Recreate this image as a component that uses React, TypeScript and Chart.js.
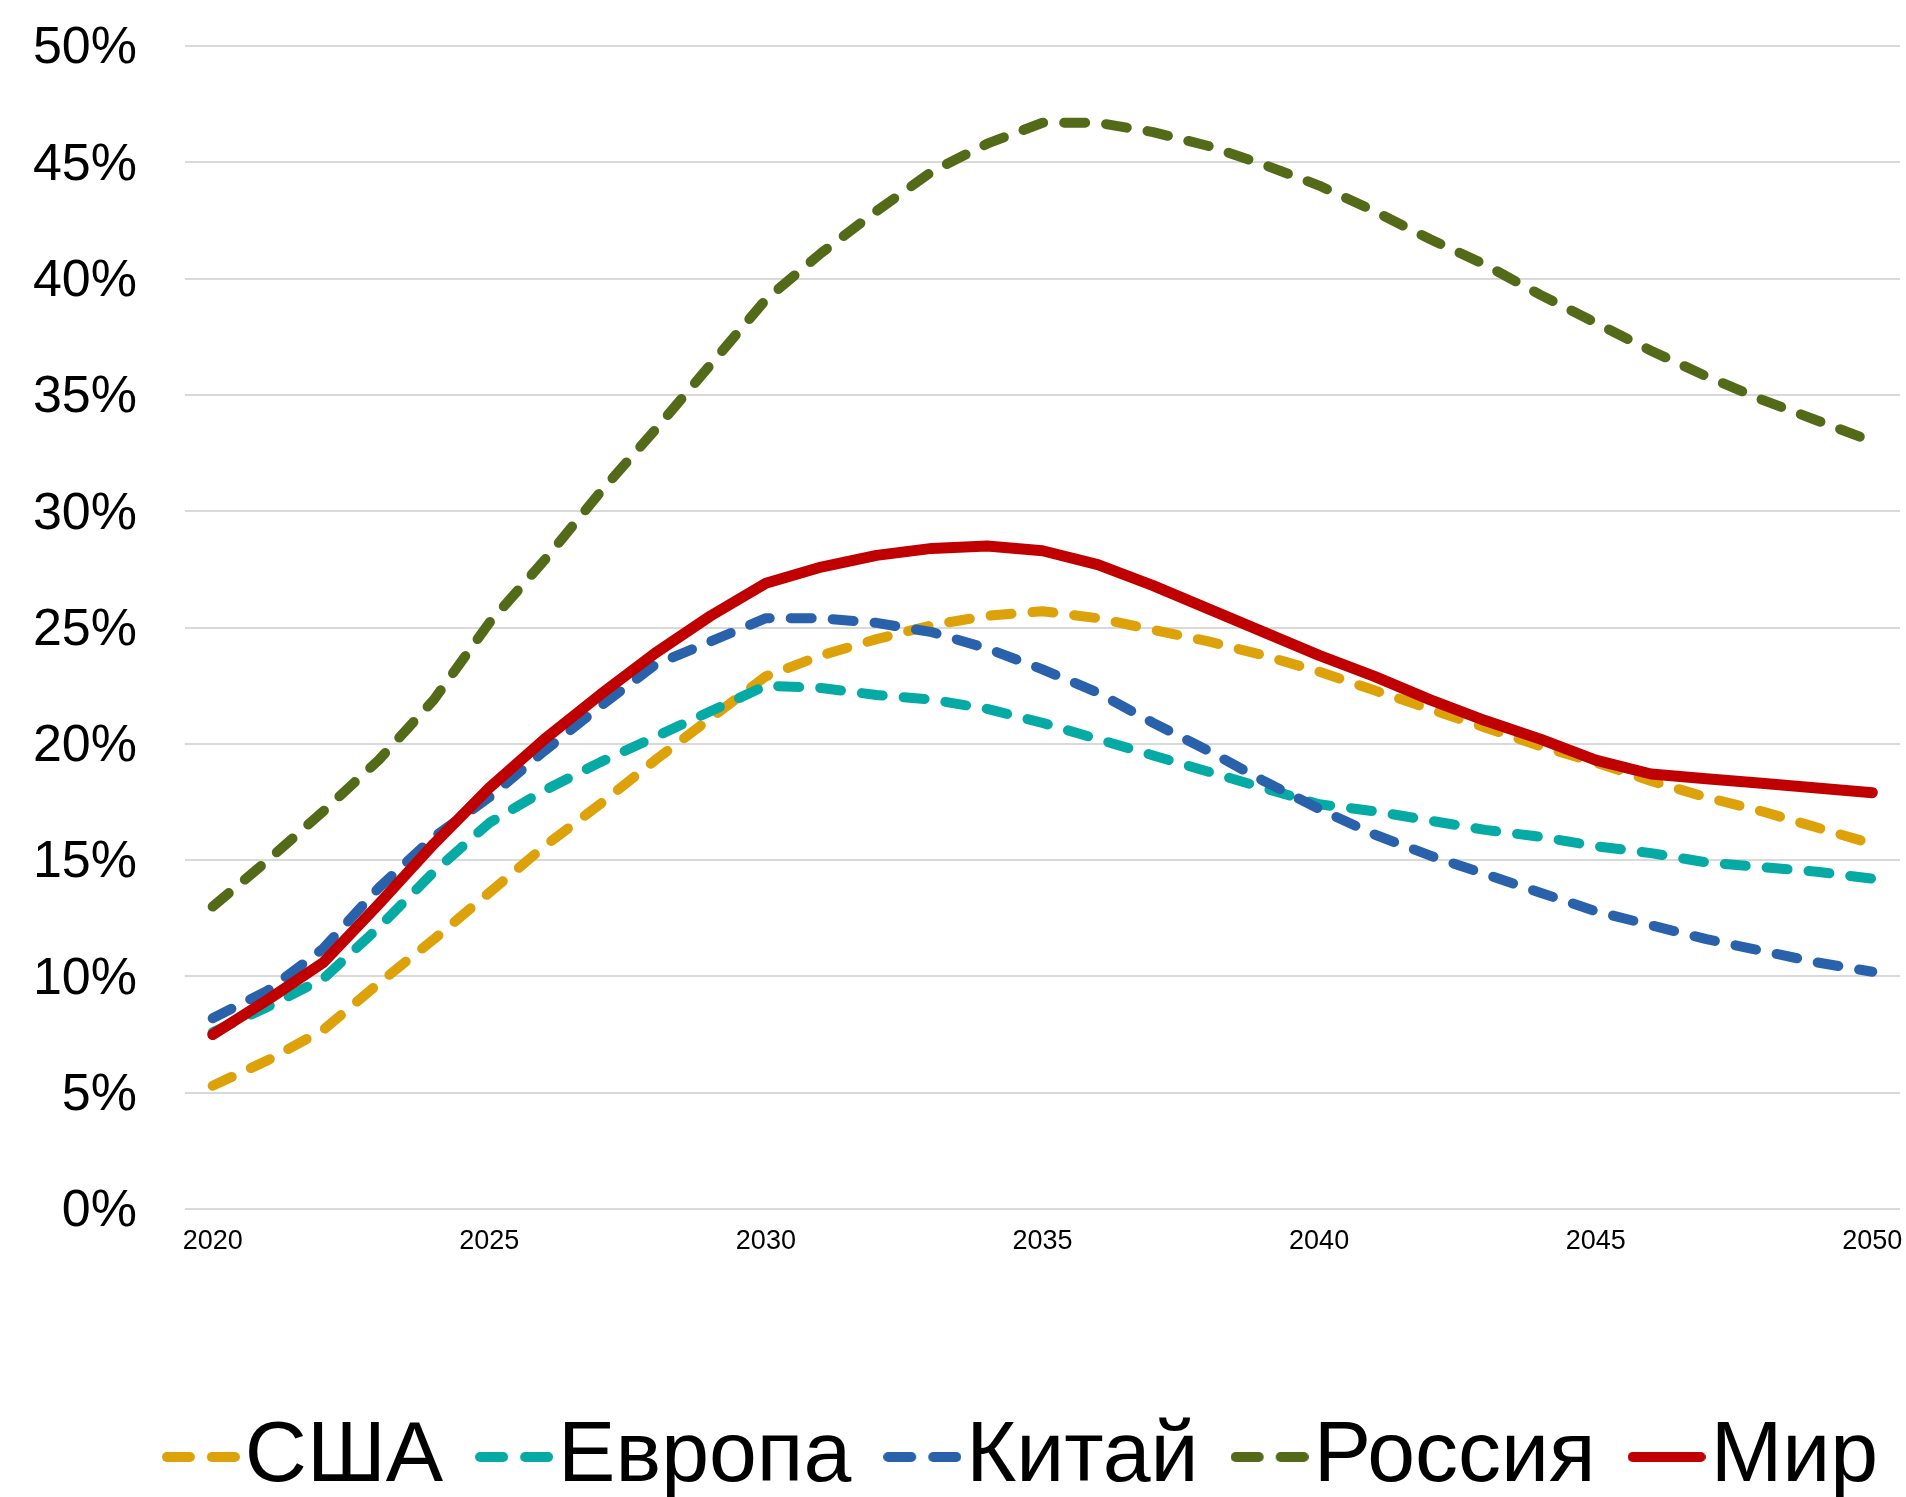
import { useEffect, useRef } from 'react';
import { Chart, registerables } from 'chart.js';

Chart.register(...registerables);

const years = [
  2020, 2021, 2022, 2023, 2024, 2025, 2026, 2027, 2028, 2029,
  2030, 2031, 2032, 2033, 2034, 2035, 2036, 2037, 2038, 2039,
  2040, 2041, 2042, 2043, 2044, 2045, 2046, 2047, 2048, 2049, 2050,
];
const shownYears = [2020, 2025, 2030, 2035, 2040, 2045, 2050];

const seriesNames = ['США', 'Европа', 'Китай', 'Россия', 'Мир'];

const usa = [
  5.3, 6.4, 7.7, 9.7, 11.6, 13.6, 15.6, 17.4, 19.3, 21.1,
  22.9, 23.8, 24.5, 25.1, 25.5, 25.7, 25.4, 24.9, 24.4, 23.8,
  23.1, 22.3, 21.5, 20.7, 19.9, 19.2, 18.4, 17.7, 17.1, 16.4, 15.7,
];
const europe = [
  7.6, 8.7, 9.9, 12.1, 14.5, 16.6, 18.0, 19.2, 20.3, 21.4,
  22.5, 22.4, 22.1, 21.9, 21.5, 20.9, 20.2, 19.5, 18.8, 18.1,
  17.4, 17.1, 16.7, 16.3, 16.0, 15.6, 15.3, 14.9, 14.7, 14.5, 14.2,
];
const china = [
  8.2, 9.4, 11.2, 13.8, 16.0, 17.7, 19.7, 21.6, 23.4, 24.4,
  25.4, 25.4, 25.2, 24.8, 24.1, 23.2, 22.2, 20.9, 19.7, 18.4,
  17.2, 16.1, 15.2, 14.4, 13.6, 12.8, 12.2, 11.6, 11.1, 10.6, 10.2,
];
const russia = [
  13.0, 15.0, 17.1, 19.3, 21.9, 25.2, 27.9, 30.8, 33.5, 36.3,
  39.1, 41.1, 42.9, 44.6, 45.8, 46.7, 46.7, 46.3, 45.7, 44.9,
  44.0, 42.9, 41.7, 40.6, 39.3, 38.1, 36.9, 35.8, 34.8, 33.9, 33.0,
];
const world = [
  7.5, 9.0, 10.6, 13.1, 15.7, 18.1, 20.2, 22.1, 23.9, 25.5,
  26.9, 27.6, 28.1, 28.4, 28.5, 28.3, 27.7, 26.8, 25.8, 24.8,
  23.8, 22.9, 21.9, 21.0, 20.2, 19.3, 18.7, 18.5, 18.3, 18.1, 17.9,
];

const colors = ['#DDA10A', '#05AAA5', '#2962AB', '#536A18', '#C00000'];
const dashed = [true, true, true, true, false];

const FONT = "'Liberation Sans', Arial, sans-serif";

function makeSymbol(color: string, isDashed: boolean): HTMLCanvasElement {
  const c = document.createElement('canvas');
  c.width = 78;
  c.height = 12;
  const ctx = c.getContext('2d')!;
  ctx.strokeStyle = color;
  ctx.lineWidth = 10;
  ctx.lineCap = 'round';
  if (isDashed) {
    ctx.beginPath();
    ctx.moveTo(5, 6);
    ctx.lineTo(28, 6);
    ctx.stroke();
    ctx.beginPath();
    ctx.moveTo(50, 6);
    ctx.lineTo(73, 6);
    ctx.stroke();
  } else {
    ctx.beginPath();
    ctx.moveTo(5, 6);
    ctx.lineTo(73, 6);
    ctx.stroke();
  }
  return c;
}

const legendShift = {
  id: 'legendShift',
  afterLayout(chart: any) {
    const l = chart.legend;
    if (l) {
      l.left += 89;
      l.right += 89;
    }
  },
};

export default function App() {
  const ref = useRef<HTMLCanvasElement | null>(null);

  useEffect(() => {
    document.body.style.margin = '0';
    const canvas = ref.current;
    if (!canvas) return;
    const values = [usa, europe, china, russia, world];
    const datasets = values.map((data, i) => ({
      label: seriesNames[i],
      data,
      borderColor: colors[i],
      backgroundColor: colors[i],
      borderWidth: dashed[i] ? 10 : 11,
      borderDash: dashed[i] ? [21, 21] : [],
      borderCapStyle: 'round' as const,
      borderJoinStyle: 'round' as const,
      pointRadius: 0,
      pointHoverRadius: 0,
      pointStyle: makeSymbol(colors[i], dashed[i]),
      tension: 0,
      fill: false,
      order: 5 - i,
    }));

    const chart = new Chart(canvas, {
      type: 'line',
      data: { labels: years.map(String), datasets },
      plugins: [legendShift],
      options: {
        responsive: false,
        animation: false,
        layout: { padding: { left: 0, right: 6, top: 46, bottom: 0 } },
        plugins: {
          tooltip: { enabled: false },
          title: { display: false },
          legend: {
            display: true,
            position: 'bottom',
            align: 'center',
            labels: {
              usePointStyle: true,
              pointStyleWidth: 2,
              boxWidth: 2,
              boxHeight: 10,
              padding: 70,
              color: '#000000',
              font: { family: FONT, size: 86 },
              sort: (a: any, b: any) => a.datasetIndex - b.datasetIndex,
            },
          },
        },
        scales: {
          x: {
            type: 'category',
            offset: true,
            grid: { display: false, drawTicks: false },
            border: { display: false },
            ticks: {
              autoSkip: false,
              maxRotation: 0,
              minRotation: 0,
              padding: 16,
              color: '#000000',
              font: { family: FONT, size: 27 },
              callback: (_v: any, index: number) =>
                shownYears.includes(years[index]) ? String(years[index]) : '',
            },
            afterFit: (scale: any) => {
              scale.height = 135;
              scale.paddingRight = 0;
              scale.paddingLeft = 0;
            },
          },
          y: {
            min: 0,
            max: 50,
            grid: { color: '#D9D9D9', lineWidth: 2, drawTicks: false },
            border: { display: false },
            ticks: {
              stepSize: 5,
              padding: 48,
              labelOffset: 3,
              color: '#000000',
              font: { family: FONT, size: 52 },
              callback: (v: any) => `${v}%`,
            },
            afterFit: (scale: any) => {
              scale.width = 185;
              scale.paddingTop = 0;
              scale.paddingBottom = 0;
            },
          },
        },
      },
    });
    return () => chart.destroy();
  }, []);

  return (
    <div
      style={{
        position: 'fixed',
        top: 0,
        left: 0,
        width: 1906,
        height: 1497,
        overflow: 'hidden',
        background: '#ffffff',
      }}
    >
      <canvas ref={ref} width={1906} height={1510} style={{ display: 'block' }} />
    </div>
  );
}
